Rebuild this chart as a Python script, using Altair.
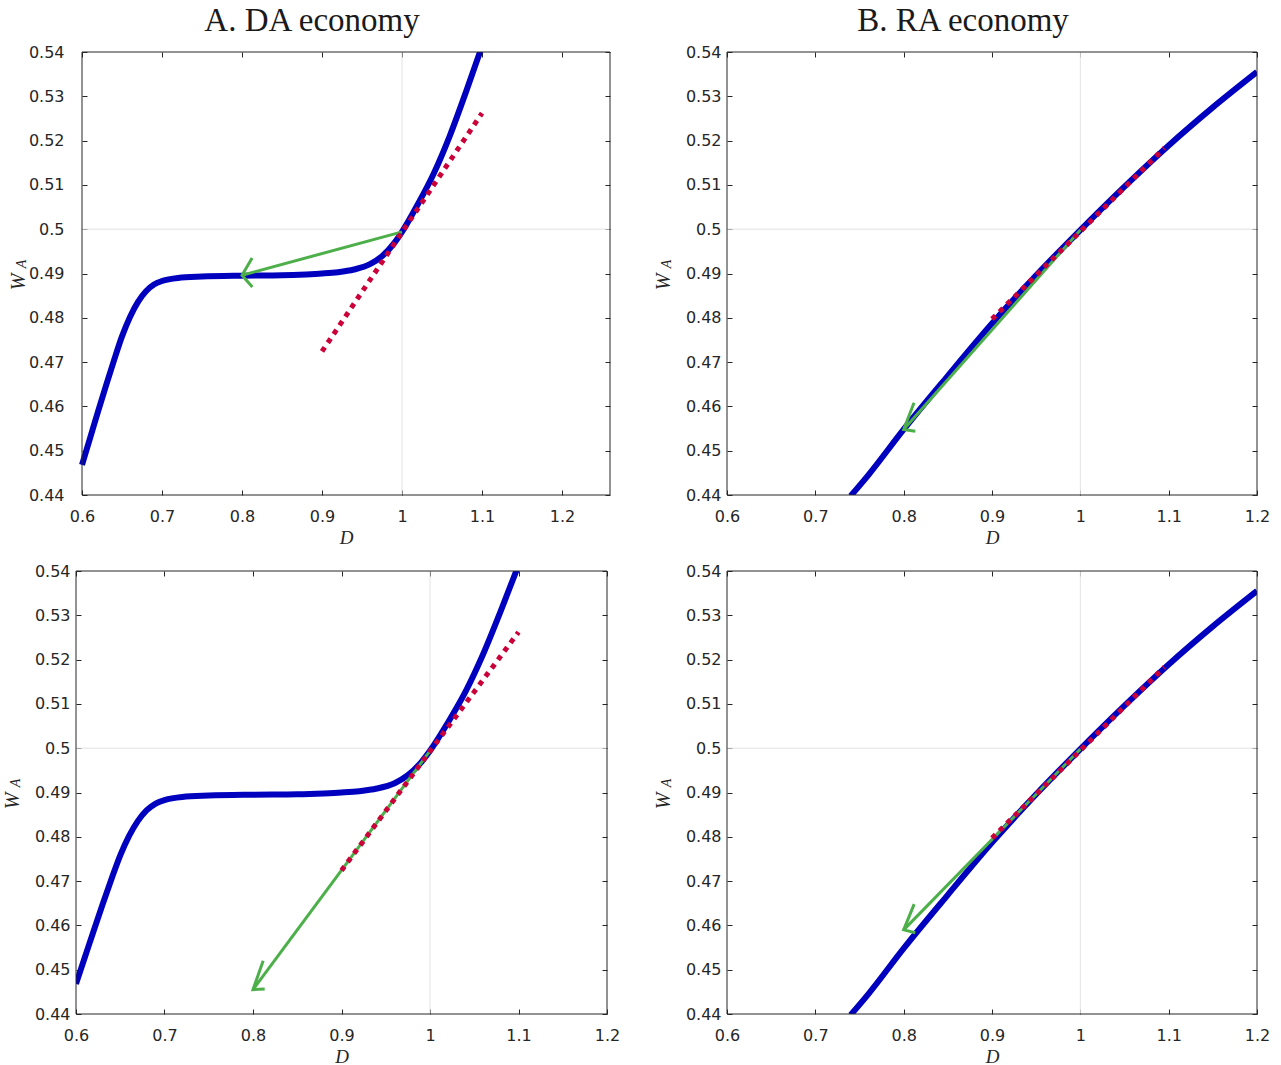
import math

import altair as alt
import pandas as pd

# ---------------------------------------------------------------- data
# DA economy: wealth share W_A of agent A as a function of the dividend D
DA_D = [0.600, 0.610, 0.620, 0.630, 0.640, 0.650, 0.660, 0.670, 0.680, 0.690,
        0.700, 0.720, 0.750, 0.800, 0.850, 0.880, 0.900, 0.920, 0.940, 0.960,
        0.975, 0.990, 1.000, 1.020, 1.040, 1.060, 1.080, 1.100]
DA_W = [0.4468, 0.4528, 0.4588, 0.4647, 0.4704, 0.4758, 0.4802, 0.4836, 0.4860, 0.4875,
        0.4883, 0.4890, 0.4893, 0.4895, 0.4896, 0.4898, 0.4900, 0.4903, 0.4909, 0.4921,
        0.4939, 0.4968, 0.4994, 0.5057, 0.5127, 0.5212, 0.5310, 0.5413]

# RA economy
RA_D = [0.740, 0.760, 0.800, 0.850, 0.900, 0.950, 1.000, 1.050, 1.100, 1.150, 1.200]
RA_W = [0.4398, 0.4445, 0.4548, 0.4669, 0.4787, 0.4896, 0.4998, 0.5096, 0.5189, 0.5275, 0.5355]

# first-order (tangent) approximation around D = 1
DA_TAN_D = [0.900, 1.100]
DA_TAN_W = [0.4724, 0.5262]
RA_TAN_D = [0.900, 1.095]
RA_TAN_W = [0.4797, 0.5183]

# arrows: start (D, W) -> tip (D, W)
ARROW_DA_TOP = [1.000, 0.4994, 0.800, 0.4896]
ARROW_RA_TOP = [1.000, 0.4998, 0.800, 0.4548]
ARROW_DA_BOT = [1.000, 0.4994, 0.800, 0.4455]
ARROW_RA_BOT = [1.000, 0.4998, 0.800, 0.4590]

# axes
D_TICKS = [0.6, 0.7, 0.8, 0.9, 1.0, 1.1, 1.2]
W_TICKS = [0.44, 0.45, 0.46, 0.47, 0.48, 0.49, 0.50, 0.51, 0.52, 0.53, 0.54]
D_MIN = 0.6
W_MIN, W_MAX = 0.44, 0.54
REF_D = [1.0]
REF_W = [0.5]

PANEL_TITLES = ["A. DA economy", "B. RA economy"]

# ---------------------------------------------------------------- style
BLUE = "#0000BF"
RED = "#CC0038"
GREEN = "#4DAF4A"
AXIS_COLOR = "#262626"
GRID_COLOR = "#E3E3E3"
SANS = "DejaVu Sans"
SERIF = "Liberation Serif"
HEIGHT = 443
HEAD_LEN = 0.0128   # arrowhead arm length along the shaft (data units)
HEAD_HALF = 0.0033  # arrowhead half width (data units)


def arrow_head(arrow):
    sd, sw, ed, ew = arrow
    ud, uw = sd - ed, sw - ew
    n = math.hypot(ud, uw)
    ud, uw = ud / n, uw / n
    nd, nw = -uw, ud
    pts = [
        (ed + HEAD_LEN * ud + HEAD_HALF * nd, ew + HEAD_LEN * uw + HEAD_HALF * nw),
        (ed, ew),
        (ed + HEAD_LEN * ud - HEAD_HALF * nd, ew + HEAD_LEN * uw - HEAD_HALF * nw),
    ]
    return pd.DataFrame({"D": [p[0] for p in pts], "W": [p[1] for p in pts], "k": [0, 1, 2]})


def tick_axis(orient, offset, values):
    # tick-only axis pushed onto the opposite edge so its ticks point inwards
    return alt.Axis(orient=orient, offset=offset, values=values, labels=False,
                    domain=False, grid=False, ticks=True, tickSize=5,
                    tickColor=AXIS_COLOR, tickWidth=1, title=None)


def anchor(px, py):
    # invisible point that fixes how far a panel's bounds reach
    return alt.Chart(pd.DataFrame({"a": [0]})).mark_point(
        opacity=0, size=1, filled=True, strokeWidth=0
    ).encode(x=alt.value(px), y=alt.value(py))


def label(text, px, py, size, angle=0):
    return alt.Chart(pd.DataFrame({"t": [text]})).mark_text(
        font=SERIF, fontStyle="italic", fontSize=size, color=AXIS_COLOR,
        align="center", baseline="middle", angle=angle
    ).encode(text="t:N", x=alt.value(px), y=alt.value(py))


def panel(curve_d, curve_w, tan_d, tan_w, arrow, x_max, plot_w, anchors,
          title=None, title_x=0, lead=0):
    # `lead` leaves blank pixels inside the cell, left of the framed plot
    total_w = plot_w + lead
    x_lo = D_MIN - lead * (x_max - D_MIN) / plot_w
    xs = alt.Scale(domain=[x_lo, x_max], nice=False, zero=False)
    ys = alt.Scale(domain=[W_MIN, W_MAX], nice=False, zero=False)

    x_main = alt.Axis(values=D_TICKS, format="~g", domain=False, ticks=False, grid=False,
                      labelFont=SANS, labelFontSize=16, labelColor=AXIS_COLOR,
                      labelPadding=13, labelFlush=False,
                      title="D", titleFont=SERIF, titleFontStyle="italic",
                      titleFontWeight="normal", titleFontSize=19, titleColor=AXIS_COLOR,
                      titleX=lead + plot_w / 2, titleY=42, titleBaseline="middle")
    y_main = alt.Axis(values=W_TICKS, format="~g", domain=False, ticks=False, grid=False,
                      labelFont=SANS, labelFontSize=16, labelColor=AXIS_COLOR,
                      labelPadding=6 + lead, labelFlush=False, title=None)

    curve_df = pd.DataFrame({"D": curve_d, "W": curve_w})
    tan_df = pd.DataFrame({"D": tan_d, "W": tan_w})
    shaft_df = pd.DataFrame({"D": [arrow[0], arrow[2]], "W": [arrow[1], arrow[3]]})
    head_df = arrow_head(arrow)

    grid_x = alt.Chart(pd.DataFrame({"D": REF_D})).mark_rule(
        color=GRID_COLOR, strokeWidth=1).encode(x=alt.X("D:Q", scale=xs, axis=None))
    grid_y = alt.Chart(pd.DataFrame({"W": REF_W})).mark_rule(
        color=GRID_COLOR, strokeWidth=1).encode(
        y=alt.Y("W:Q", scale=ys, axis=None), x=alt.value(lead), x2=alt.value(total_w))

    curve = alt.Chart(curve_df).mark_line(
        color=BLUE, strokeWidth=6, clip=True, interpolate="monotone", strokeCap="butt"
    ).encode(x=alt.X("D:Q", scale=xs, axis=x_main),
             y=alt.Y("W:Q", scale=ys, axis=y_main))

    shaft = alt.Chart(shaft_df).mark_line(color=GREEN, strokeWidth=3, clip=True).encode(
        x=alt.X("D:Q", scale=xs, axis=tick_axis("bottom", -HEIGHT, D_TICKS)),
        y=alt.Y("W:Q", scale=ys, axis=tick_axis("left", -total_w, W_TICKS)))
    head = alt.Chart(head_df).mark_line(color=GREEN, strokeWidth=3, clip=True,
                                        strokeJoin="miter").encode(
        x=alt.X("D:Q", scale=xs, axis=None),
        y=alt.Y("W:Q", scale=ys, axis=None),
        order=alt.Order("k:Q"))

    tangent = alt.Chart(tan_df).mark_line(
        color=RED, strokeWidth=5, strokeDash=[5, 5.5], strokeCap="butt", clip=True
    ).encode(x=alt.X("D:Q", scale=xs, axis=tick_axis("top", -HEIGHT, D_TICKS)),
             y=alt.Y("W:Q", scale=ys, axis=tick_axis("right", lead - total_w, W_TICKS)))

    frame = alt.Chart(pd.DataFrame({"f": [0]})).mark_rect(
        filled=False, color=AXIS_COLOR, strokeWidth=1
    ).encode(x=alt.value(lead), x2=alt.value(total_w), y=alt.value(0), y2=alt.value(HEIGHT))

    # y-axis title W with subscript A, written bottom-to-top
    y_title = label("W", lead - 63.5, HEIGHT / 2 + 8.5, 20, angle=270)
    y_sub = label("A", lead - 60, HEIGHT / 2 - 9.5, 14, angle=270)

    layers = [grid_x, grid_y, curve, shaft, head, tangent, frame, y_title, y_sub]
    if title:
        layers.append(alt.Chart(pd.DataFrame({"t": [title]})).mark_text(
            font=SERIF, fontSize=33, fontWeight="normal", color="#1A1A1A",
            align="center", baseline="alphabetic"
        ).encode(text="t:N", x=alt.value(lead + plot_w / 2 + title_x), y=alt.value(-21)))
    layers += [anchor(px, py) for px, py in anchors]
    return alt.layer(*layers).resolve_axis(
        x="independent", y="independent").properties(width=total_w, height=HEIGHT)


top_left = panel(DA_D, DA_W, DA_TAN_D, DA_TAN_W, ARROW_DA_TOP, 1.26, 528,
                 [(-76.5, 0), (548.5, 0), (0, -51.5), (0, HEIGHT + 55.5)],
                 PANEL_TITLES[0], -34, lead=6)
top_right = panel(RA_D, RA_W, RA_TAN_D, RA_TAN_W, ARROW_RA_TOP, 1.2, 530,
                  [(-80.5, 0), (0, -51.5), (0, HEIGHT + 55.5)],
                  PANEL_TITLES[1], -29)
bottom_left = panel(DA_D, DA_W, DA_TAN_D, DA_TAN_W, ARROW_DA_BOT, 1.2, 531,
                    [(-76.5, 0), (548.5, 0), (0, -13.5)])
bottom_right = panel(RA_D, RA_W, RA_TAN_D, RA_TAN_W, ARROW_RA_BOT, 1.2, 530,
                     [(-80.5, 0), (0, -13.5)])

chart = alt.concat(
    top_left, top_right, bottom_left, bottom_right,
    columns=2, align="none", spacing={"row": 4, "column": 19},
).properties(
    padding={"left": -2, "top": -1, "right": 10, "bottom": 4},
    autosize=alt.AutoSizeParams(type="pad"),
    background="white",
).configure_view(stroke="transparent")

chart.save("out.html", embed_options={"renderer": "svg", "actions": False})
